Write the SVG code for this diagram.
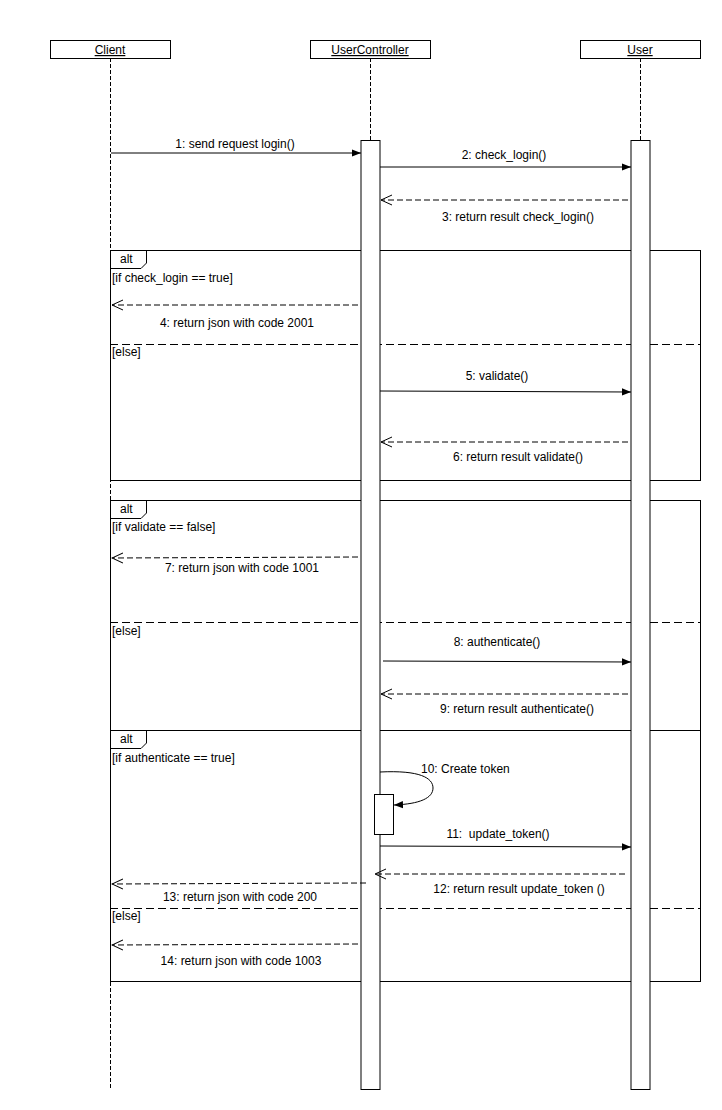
<svg xmlns="http://www.w3.org/2000/svg" width="722" height="1110" viewBox="0 0 722 1110">
<style>
text{font-family:"Liberation Sans",Arial,sans-serif;font-size:12px;fill:#000}
.c{text-anchor:middle}
.u{text-decoration:underline}
.box{fill:#fff;stroke:#000;stroke-width:1}
.life{stroke:#000;stroke-width:1;stroke-dasharray:4 2;fill:none}
.frame{fill:none;stroke:#000;stroke-width:1}
.sep{stroke:#000;stroke-width:1;stroke-dasharray:8 4;fill:none}
.msg{stroke:#000;stroke-width:1;fill:none}
.ret{stroke:#000;stroke-width:1;stroke-dasharray:6 3;fill:none}
.act{fill:#fff;stroke:#000;stroke-width:1}
</style>
<defs>
<marker id="fill" viewBox="0 0 10 10" refX="10" refY="5" markerWidth="9" markerHeight="9" markerUnits="userSpaceOnUse" orient="auto">
<path d="M0,1 L10,5 L0,9 Z" fill="#000"/>
</marker>
<marker id="open" viewBox="0 0 12 12" refX="11" refY="6" markerWidth="12" markerHeight="12" markerUnits="userSpaceOnUse" orient="auto">
<path d="M0,1 L11,6 L0,11" fill="none" stroke="#000" stroke-width="1"/>
</marker>
</defs>
<rect width="722" height="1110" fill="#fff"/>

<g id="lifelines">
<line class="life" x1="110.5" y1="58" x2="110.5" y2="1090"/>
<line class="life" x1="370.5" y1="58" x2="370.5" y2="140"/>
<line class="life" x1="640.5" y1="58" x2="640.5" y2="140"/>
</g>

<g id="client">
<rect class="box" x="50.5" y="40.5" width="120" height="18"/>
<text class="c u" x="110" y="54">Client</text>
</g>
<g id="usercontroller">
<rect class="box" x="310.5" y="40.5" width="120" height="18"/>
<text class="c u" x="370" y="54">UserController</text>
</g>
<g id="user">
<rect class="box" x="580.5" y="40.5" width="120" height="18"/>
<text class="c u" x="640" y="54">User</text>
</g>

<g id="alt1">
<rect class="frame" x="110.5" y="250.5" width="590" height="230"/>
<path class="frame" d="M110.5,268.5 H141 L146.5,263 V250.5"/>
<text x="120" y="263">alt</text>
<text x="112" y="282">[if check_login == true]</text>
<line class="sep" x1="110" y1="344.5" x2="700" y2="344.5"/>
<text x="112" y="356">[else]</text>
</g>

<g id="alt2">
<rect class="frame" x="110.5" y="500.5" width="590" height="481"/>
<path class="frame" d="M110.5,518.5 H141 L146.5,513 V500.5"/>
<text x="120" y="513">alt</text>
<text x="112" y="531">[if validate == false]</text>
<line class="sep" x1="110" y1="622.5" x2="700" y2="622.5"/>
<text x="112" y="635">[else]</text>
</g>

<g id="alt3">
<rect class="frame" x="110.5" y="730.5" width="590" height="251"/>
<path class="frame" d="M110.5,748.5 H141 L146.5,743 V730.5"/>
<text x="120" y="743">alt</text>
<text x="112" y="762">[if authenticate == true]</text>
<line class="sep" x1="110" y1="908.5" x2="700" y2="908.5"/>
<text x="112" y="920">[else]</text>
</g>

<g id="activations">
<rect class="act" x="361" y="140.5" width="19" height="949"/>
<rect class="act" x="631" y="140.5" width="19" height="949"/>
<rect class="act" x="374.5" y="794.5" width="19" height="40"/>
</g>

<g id="connectors">
<line class="msg" x1="111" y1="153" x2="361" y2="153" marker-end="url(#fill)"/>
<text class="c" x="235" y="148">1: send request login()</text>

<line class="msg" x1="380" y1="167" x2="631" y2="167" marker-end="url(#fill)"/>
<text class="c" x="504" y="159">2: check_login()</text>

<line class="ret" x1="628" y1="200" x2="381" y2="200" marker-end="url(#open)"/>
<text class="c" x="518" y="221">3: return result check_login()</text>

<line class="ret" x1="358" y1="305" x2="112" y2="305" marker-end="url(#open)"/>
<text class="c" x="237" y="327">4: return json with code 2001</text>

<line class="msg" x1="380" y1="391" x2="631" y2="392" marker-end="url(#fill)"/>
<text class="c" x="497" y="380">5: validate()</text>

<line class="ret" x1="628" y1="442" x2="381" y2="442" marker-end="url(#open)"/>
<text class="c" x="518" y="461">6: return result validate()</text>

<line class="ret" x1="358" y1="557" x2="112" y2="558" marker-end="url(#open)"/>
<text class="c" x="242" y="572">7: return json with code 1001</text>

<line class="msg" x1="383" y1="661" x2="631" y2="662" marker-end="url(#fill)"/>
<text class="c" x="497" y="646">8: authenticate()</text>

<line class="ret" x1="628" y1="694" x2="381" y2="694" marker-end="url(#open)"/>
<text class="c" x="517" y="713">9: return result authenticate()</text>

<path class="msg" d="M380,772 C420,770 433,778 433,788 C433,798 420,804 394,805" marker-end="url(#fill)"/>
<text x="421" y="773">10: Create token</text>

<line class="msg" x1="380" y1="846" x2="631" y2="847" marker-end="url(#fill)"/>
<text class="c" x="498" y="838">11:&#160; update_token()</text>

<line class="ret" x1="625" y1="874" x2="375" y2="874" marker-end="url(#open)"/>
<text class="c" x="519" y="893">12: return result update_token ()</text>

<line class="ret" x1="366" y1="883" x2="112" y2="884" marker-end="url(#open)"/>
<text class="c" x="240" y="901">13: return json with code 200</text>

<line class="ret" x1="358" y1="944" x2="112" y2="945" marker-end="url(#open)"/>
<text class="c" x="241" y="965">14: return json with code 1003</text>
</g>
</svg>
